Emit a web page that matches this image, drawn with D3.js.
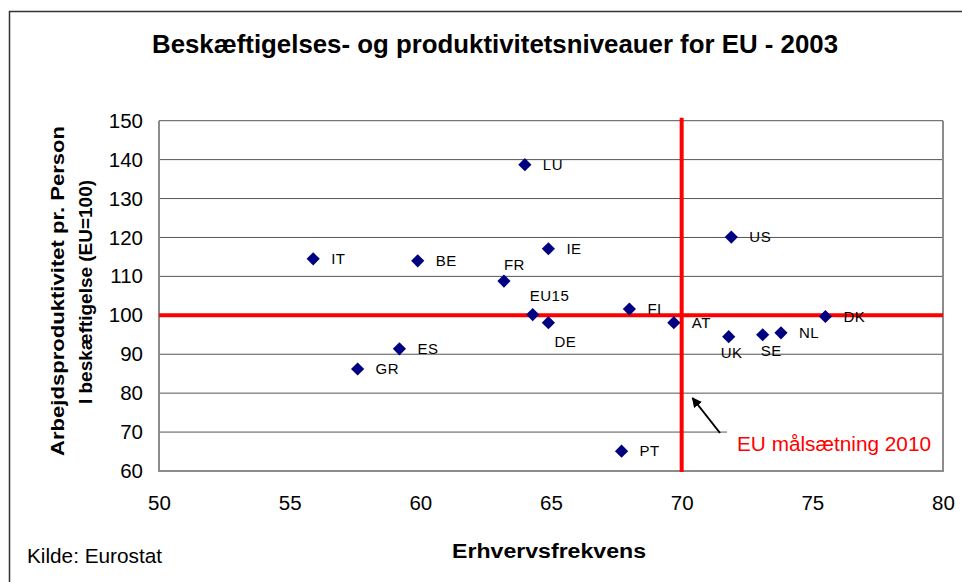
<!DOCTYPE html>
<html>
<head>
<meta charset="utf-8">
<script src="https://cdn.jsdelivr.net/npm/d3@7"></script>
<style>
  html, body { margin: 0; padding: 0; background: #fff; }
  svg { display: block; }
  text { font-family: "Liberation Sans", Arial, sans-serif; }
</style>
</head>
<body>
<svg id="chart" width="962" height="582"></svg>
<script>
// ---- Data ----
const countries      = ["IT", "GR", "ES", "BE", "LU", "FR", "IE", "EU15", "DE", "FI", "AT", "US", "UK", "SE", "NL", "DK", "PT"];
const employmentRate = [55.9, 57.6, 59.2, 59.9, 64.0, 63.2, 64.9, 64.3, 64.9, 68.0, 69.7, 71.9, 71.8, 73.1, 73.8, 75.5, 67.7];
const productivity   = [114.5, 86.2, 91.4, 114.0, 138.7, 108.8, 117.1, 100.2, 98.1, 101.6, 98.1, 120.1, 94.5, 95.0, 95.5, 99.7, 65.1];
const xTicks = [50, 55, 60, 65, 70, 75, 80];
const yTicks = [60, 70, 80, 90, 100, 110, 120, 130, 140, 150];
const targetEmployment = 70;   // EU 2010 target
const euLevel = 100;           // EU = 100

const titleText = "Beskæftigelses- og produktivitetsniveauer for EU - 2003";
const xTitle = "Erhvervsfrekvens";
const yTitle1 = "Arbejdsproduktivitet pr. Person";
const yTitle2 = "I beskæftigelse (EU=100)";
const sourceText = "Kilde: Eurostat";
const annotationText = "EU målsætning 2010";

// ---- Label placement (styling) ----
const labelOffset = {
  FR:   [0, -16],
  EU15: [-3, -18.5],
  DE:   [6, 19],
  UK:   [-8, 16],
  SE:   [-2, 16]
};

const svg = d3.select("#chart");
const L = 159, R = 943, T = 120.7, B = 471;

const x = d3.scaleLinear().domain([50, 80]).range([L, R]);
const y = d3.scaleLinear().domain([60, 150]).range([B, T]);

// outer frame
svg.append("rect")
  .attr("x", 9.5).attr("y", 11.5).attr("width", 962).attr("height", 600)
  .attr("fill", "#fff").attr("stroke", "#333").attr("stroke-width", 1.5);

// title
svg.append("text")
  .attr("x", 152).attr("y", 53)
  .attr("font-size", 26).attr("font-weight", "bold")
  .attr("textLength", 686).attr("lengthAdjust", "spacingAndGlyphs")
  .text(titleText);

// gridlines
svg.append("g")
  .selectAll("line")
  .data(yTicks.filter(v => v !== 60))
  .join("line")
  .attr("x1", L).attr("x2", R)
  .attr("y1", d => y(d)).attr("y2", d => y(d))
  .attr("stroke", "#555").attr("stroke-width", 1);

// plot border (left, bottom, right)
svg.append("path")
  .attr("d", `M${L},${T}V${B}H${R}V${T}`)
  .attr("fill", "none").attr("stroke", "#8c8c8c").attr("stroke-width", 2);

// axes
const yAxis = svg.append("g")
  .attr("transform", `translate(${L},0)`)
  .call(d3.axisLeft(y).tickValues(yTicks).tickSize(0).tickPadding(16));
yAxis.select(".domain").remove();
yAxis.selectAll("text").attr("font-size", 20.5).attr("fill", "#000")
  .attr("font-family", "\"Liberation Sans\", Arial, sans-serif");

const xAxis = svg.append("g")
  .attr("transform", `translate(0,${B})`)
  .call(d3.axisBottom(x).tickValues(xTicks).tickSize(0).tickPadding(24));
xAxis.select(".domain").remove();
xAxis.selectAll("text").attr("font-size", 20.5).attr("fill", "#000")
  .attr("font-family", "\"Liberation Sans\", Arial, sans-serif");

// red reference lines
svg.append("line")
  .attr("x1", L).attr("x2", R)
  .attr("y1", y(euLevel)).attr("y2", y(euLevel))
  .attr("stroke", "#ff0000").attr("stroke-width", 4);
svg.append("line")
  .attr("x1", x(targetEmployment)).attr("x2", x(targetEmployment))
  .attr("y1", T - 3).attr("y2", B + 1)
  .attr("stroke", "#ff0000").attr("stroke-width", 4);

// annotation box + text + arrow
svg.append("rect")
  .attr("x", 727).attr("y", 420).attr("width", R - 727 - 1).attr("height", 42)
  .attr("fill", "#fff");
svg.append("text")
  .attr("x", 737).attr("y", 451)
  .attr("font-size", 20.5).attr("fill", "#ff0000")
  .attr("textLength", 194).attr("lengthAdjust", "spacingAndGlyphs")
  .text(annotationText);

svg.append("defs").append("marker")
  .attr("id", "arrow").attr("viewBox", "0 0 10 10")
  .attr("refX", 9).attr("refY", 5)
  .attr("markerWidth", 5).attr("markerHeight", 5)
  .attr("orient", "auto")
  .append("path").attr("d", "M0,0L10,5L0,10Z").attr("fill", "#000");
svg.append("line")
  .attr("x1", 720).attr("y1", 433)
  .attr("x2", 692.5).attr("y2", 398)
  .attr("stroke", "#000").attr("stroke-width", 2)
  .attr("marker-end", "url(#arrow)");

// points
const data = countries.map((c, i) => ({ c, xv: employmentRate[i], yv: productivity[i] }));
const s = 6.6;
svg.append("g")
  .selectAll("path")
  .data(data)
  .join("path")
  .attr("transform", d => `translate(${x(d.xv)},${y(d.yv)})`)
  .attr("d", `M0,${-s}L${s},0L0,${s}L${-s},0Z`)
  .attr("fill", "#000080");

// labels
svg.append("g")
  .selectAll("text")
  .data(data)
  .join("text")
  .attr("x", d => x(d.xv) + (labelOffset[d.c] ? labelOffset[d.c][0] : 18))
  .attr("y", d => y(d.yv) + (labelOffset[d.c] ? labelOffset[d.c][1] : 0) + 5.2)
  .attr("font-size", 15).attr("fill", "#000")
  .attr("letter-spacing", 0.5)
  .text(d => d.c);

// axis titles
svg.append("text")
  .attr("transform", "translate(64,291) rotate(-90)")
  .attr("text-anchor", "middle")
  .attr("font-size", 19).attr("font-weight", "bold")
  .attr("textLength", 330).attr("lengthAdjust", "spacingAndGlyphs")
  .text(yTitle1);
svg.append("text")
  .attr("transform", "translate(92,292) rotate(-90)")
  .attr("text-anchor", "middle")
  .attr("font-size", 19).attr("font-weight", "bold")
  .attr("textLength", 224).attr("lengthAdjust", "spacingAndGlyphs")
  .text(yTitle2);

svg.append("text")
  .attr("x", 452).attr("y", 558)
  .attr("font-size", 20).attr("font-weight", "bold")
  .attr("textLength", 194).attr("lengthAdjust", "spacingAndGlyphs")
  .text(xTitle);

svg.append("text")
  .attr("x", 27).attr("y", 563)
  .attr("font-size", 20.5)
  .attr("textLength", 135).attr("lengthAdjust", "spacingAndGlyphs")
  .text(sourceText);
</script>
</body>
</html>
